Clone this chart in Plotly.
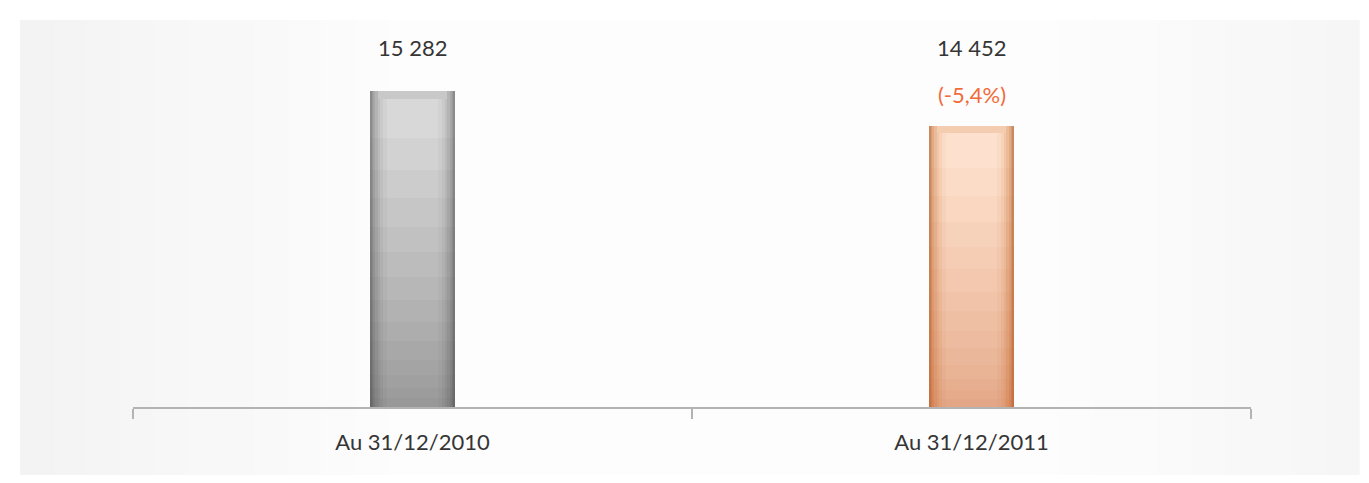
import plotly.graph_objects as go

categories = ["Au 31/12/2010", "Au 31/12/2011"]
values = [15282, 14452]
value_labels = ["15 282", "14 452"]
change_labels = ["", "(-5,4%)"]

# The page body has an 8px margin; the figure fills the rest of the window.
OFF = 8
W, H = 1369 - OFF, 483 - 2 * OFF
FONT = "Lato, 'Open Sans', sans-serif"
TXT = "#353535"

# y-range chosen so bar tops land where they are in the source
ymin, ymax = 7788, 16965

# horizontal gradient layers (outer -> inner)
layer_widths = [0.152, 0.146, 0.140, 0.133, 0.125, 0.116, 0.105, 0.090]
gray_cols = ["#8b8b8b", "#999999", "#a7a7a7", "#b4b4b4", "#c0c0c0", "#cacaca", "#d2d2d3", "#d8d8d9"]
orange_cols = ["#c98a60", "#d69a72", "#e2ab86", "#ebba98", "#f2c7a9", "#f7d2b8", "#fadbc5", "#fde1ce"]

# vertical shading bands (fraction of bar height from bottom)
shade_fracs = [0.85, 0.75, 0.66, 0.57, 0.49, 0.41, 0.34, 0.27, 0.21, 0.15, 0.10, 0.06, 0.03]
shade_alpha = 0.035

# top bevel strip (fraction of bar height)
bevel_frac = 0.025

fig = go.Figure()
for w, gc, oc in zip(layer_widths, gray_cols, orange_cols):
    fig.add_trace(go.Bar(
        x=categories, y=[v - ymin for v in values], base=ymin, width=w,
        marker=dict(color=[gc, oc], line=dict(width=0)),
        hoverinfo="skip", showlegend=False,
    ))

# lighter bevel at top of bars
fig.add_trace(go.Bar(
    x=categories, y=[(v - ymin) * bevel_frac for v in values],
    base=[v - (v - ymin) * bevel_frac for v in values], width=0.125,
    marker=dict(color=["#c8c8c8", "#f4cdb0"], line=dict(width=0)),
    hoverinfo="skip", showlegend=False,
))

for f in shade_fracs:
    fig.add_trace(go.Bar(
        x=categories, y=[(v - ymin) * f for v in values], base=ymin, width=0.152,
        marker=dict(color=["rgba(60,60,60,%.3f)" % shade_alpha, "rgba(185,85,25,%.3f)" % shade_alpha],
                    line=dict(width=0)),
        hoverinfo="skip", showlegend=False,
    ))


def px_x(p):
    return (p - OFF) / W


def px_y(p):
    return 1 - (p - OFF) / H


shapes = [
    dict(type="rect", xref="paper", yref="paper", x0=0, x1=1, y0=0, y1=1,
         fillcolor="#ffffff", line=dict(width=0), layer="below"),
]
# inner panel with a soft horizontal gradient
panel_l, panel_r, panel_t, panel_b = 20, 1359, 20, 479
n = 40
for i in range(n):
    xa = panel_l + (panel_r - panel_l) * i / n
    xb = panel_l + (panel_r - panel_l) * (i + 1) / n
    t = (i + 0.5) / n
    if t < 0.3:
        g = 243 + (253 - 243) * (t / 0.3)
    elif t < 0.75:
        g = 253
    else:
        g = 253 - (253 - 246) * ((t - 0.75) / 0.25)
    g = int(round(g))
    shapes.append(dict(type="rect", xref="paper", yref="paper",
                       x0=px_x(xa), x1=px_x(xb) + 0.0005, y0=px_y(panel_b), y1=px_y(panel_t),
                       fillcolor="rgb(%d,%d,%d)" % (g, g, g), line=dict(width=0), layer="below"))

annotations = []
for cat, vl, cl in zip(categories, value_labels, change_labels):
    annotations.append(dict(x=cat, xref="x", y=px_y(48), yref="paper", text=vl,
                            showarrow=False, yanchor="middle",
                            font=dict(family=FONT, size=22, color=TXT)))
    if cl:
        annotations.append(dict(x=cat, xref="x", y=px_y(94), yref="paper", text=cl,
                                showarrow=False, yanchor="middle",
                                font=dict(family=FONT, size=22, color="#f26b3a")))

fig.update_layout(
    width=W, height=H,
    margin=dict(l=0, r=0, t=0, b=0),
    paper_bgcolor="#ffffff", plot_bgcolor="rgba(0,0,0,0)",
    barmode="overlay", bargap=0,
    shapes=shapes, annotations=annotations,
    xaxis=dict(domain=[px_x(133), px_x(1251)], type="category",
               tickson="boundaries", ticks="outside", ticklen=10, tickwidth=2,
               tickcolor="#b3b3b3", showline=True, linecolor="#b3b3b3", linewidth=2,
               showgrid=False, zeroline=False, ticklabelstandoff=15,
               tickfont=dict(family=FONT, size=22, color=TXT)),
    yaxis=dict(domain=[px_y(407), px_y(20)], range=[ymin, ymax], visible=False,
               showgrid=False, zeroline=False),
)

fig.write_html("out.html")
